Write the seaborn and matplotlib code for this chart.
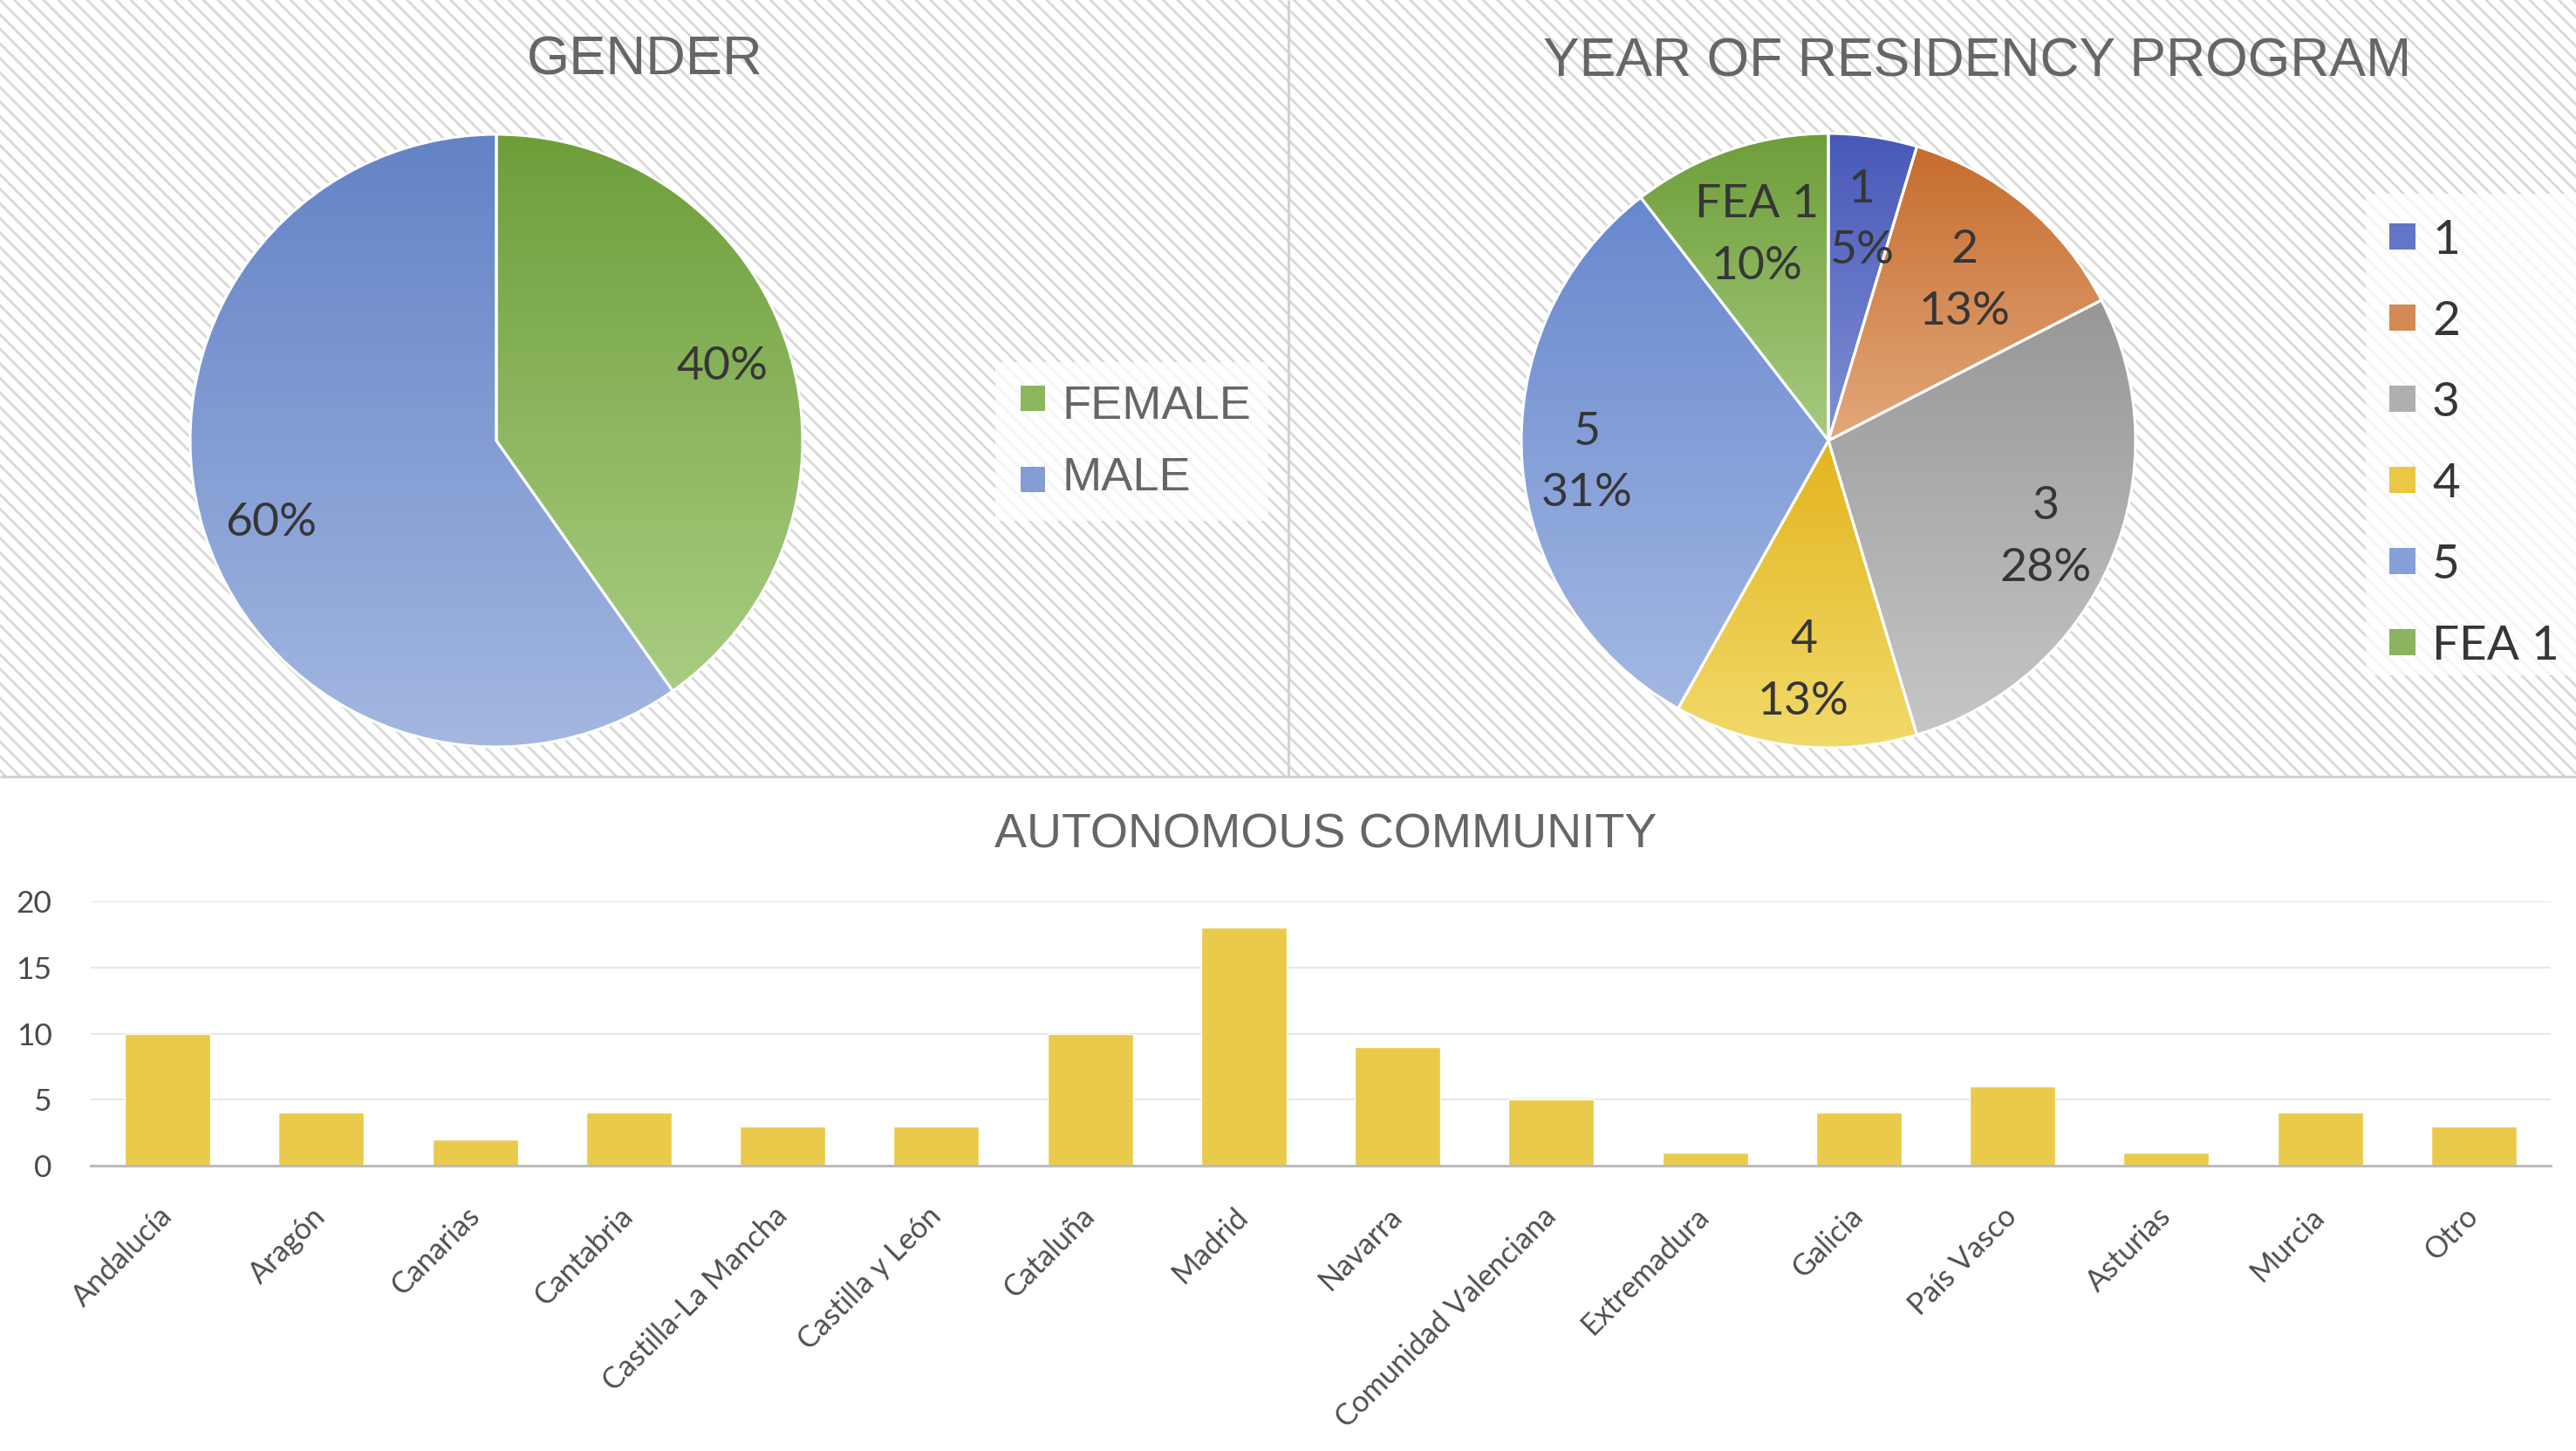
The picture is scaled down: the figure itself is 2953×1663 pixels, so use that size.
import numpy as np
import pandas as pd
import matplotlib
matplotlib.use("Agg")
import matplotlib.pyplot as plt
import seaborn as sns
from matplotlib.patches import Rectangle
from matplotlib.colors import to_rgb
from matplotlib.transforms import ScaledTranslation

# ---------------- data ----------------
gender_labels = ["FEMALE", "MALE"]
gender_counts = [35, 52]

year_labels = ["1", "2", "3", "4", "5", "FEA 1"]
year_counts = [4, 11, 24, 11, 27, 9]

communities = ["Andalucía", "Aragón", "Canarias", "Cantabria", "Castilla-La Mancha",
               "Castilla y León", "Cataluña", "Madrid", "Navarra", "Comunidad Valenciana",
               "Extremadura", "Galicia", "País Vasco", "Asturias", "Murcia", "Otro"]
community_counts = [10, 4, 2, 4, 3, 3, 10, 18, 9, 5, 1, 4, 6, 1, 4, 3]

# ---------------- styles ----------------
gender_top = ["#6E9E3A", "#6383C6"]
gender_bot = ["#A9CD82", "#A3B7E1"]
year_top = ["#4858B8", "#C66C2E", "#979797", "#E3B41E", "#6888CE", "#6E9E3A"]
year_bot = ["#8090D4", "#E2A87A", "#C6C6C6", "#F1DA6A", "#A3B8E3", "#A6CB80"]
gender_label_r = [0.78, 0.78]
year_label_r = [0.74, 0.695, 0.77, 0.74, 0.79, 0.72]
bar_color = "#E9CA4A"
label_color = "#363636"

sns.set_theme(style="white")
plt.rcParams["font.family"] = ["Lato", "DejaVu Sans"]
plt.rcParams["hatch.linewidth"] = 2.0
plt.rcParams["hatch.color"] = "#d8d8d8"

W, H = 2953, 1663
fig = plt.figure(figsize=(W / 100, H / 100), dpi=100)
fig.patch.set_facecolor("white")

# full-figure pixel axes for background / frames / legends / titles
bg = fig.add_axes([0, 0, 1, 1])
bg.set_xlim(0, W)
bg.set_ylim(H, 0)
bg.axis("off")
bg.add_patch(Rectangle((0, 0), W, 890, facecolor="white", edgecolor="#d8d8d8",
                       hatch="\\\\", lw=0))
bg.plot([1477, 1477], [0, 890], color="#d2d2d2", lw=2.2, solid_capstyle="butt")
bg.plot([0, W], [890, 890], color="#d2d2d2", lw=2.2, solid_capstyle="butt")

title_kw = dict(family=["Liberation Sans", "DejaVu Sans"], color="#666666",
                ha="center", va="baseline")
bg.text(739, 86, "GENDER", fontsize=45.5, **title_kw)
bg.text(2267, 87, "YEAR OF RESIDENCY PROGRAM", fontsize=45, **title_kw)
bg.text(1520, 971, "AUTONOMOUS COMMUNITY", fontsize=40, **title_kw)


def mid(a, b):
    return tuple((np.array(to_rgb(a)) + np.array(to_rgb(b))) / 2)


def shade(ax, wedge, top, bottom):
    bb = wedge.get_path().get_extents()
    t = np.linspace(0, 1, 256)[:, None]
    c0 = np.array(to_rgb(top))
    c1 = np.array(to_rgb(bottom))
    img = (c0 * (1 - t) + c1 * t)[:, None, :]
    im = ax.imshow(img, extent=(bb.x0, bb.x1, bb.y0, bb.y1), origin="upper",
                   aspect="auto", interpolation="bilinear", zorder=0.5)
    im.set_clip_path(wedge)


def pie_axes(cx, cy, r):
    k = 1.1
    ax = fig.add_axes([(cx - k * r) / W, (H - cy - k * r) / H, 2 * k * r / W, 2 * k * r / H])
    ax.patch.set_alpha(0)
    return ax


def draw_pie(ax, values, tops, bots, texts, radii, ang_off=0.0):
    wedges, _ = ax.pie(values, startangle=90, counterclock=False, radius=1,
                       colors=[mid(a, b) for a, b in zip(tops, bots)],
                       wedgeprops=dict(edgecolor="white", linewidth=2.2))
    for w, a, b in zip(wedges, tops, bots):
        shade(ax, w, a, b)
        w.set_facecolor("none")
    shift = ax.transData + ScaledTranslation(0, -0.05, fig.dpi_scale_trans)
    for w, txt, rr in zip(wedges, texts, radii):
        ang = np.deg2rad((w.theta1 + w.theta2) / 2 + ang_off)
        ax.text(rr * np.cos(ang), rr * np.sin(ang), txt, ha="center", va="center",
                fontsize=38.5, color=label_color, linespacing=1.62, zorder=3,
                transform=shift)
    ax.set_xlim(-1.1, 1.1)
    ax.set_ylim(-1.1, 1.1)
    ax.axis("off")


# gender pie
axg = pie_axes(569, 505, 351)
gtot = sum(gender_counts)
draw_pie(axg, gender_counts, gender_top, gender_bot,
         [f"{round(100 * v / gtot)}%" for v in gender_counts], gender_label_r, ang_off=1.6)

# year pie
axy = pie_axes(2096, 505, 352)
ytot = sum(year_counts)
draw_pie(axy, year_counts, year_top, year_bot,
         [f"{lab}\n{round(100 * v / ytot)}%" for lab, v in zip(year_labels, year_counts)],
         year_label_r)

# legends
bg.add_patch(Rectangle((1141, 415), 313, 182, facecolor="white", alpha=0.72, lw=0))
for i, (lab, a, b) in enumerate(zip(gender_labels, gender_top, gender_bot)):
    ysq = 456 + 93 * i
    ytx = 460 + 83 * i
    bg.add_patch(Rectangle((1170, ysq - 14.5), 28, 29, facecolor=mid(a, b), lw=0))
    bg.text(1218, ytx + 19.5, lab, fontsize=39, color="#666666",
            family=["Liberation Sans", "DejaVu Sans"], ha="left", va="baseline")

bg.add_patch(Rectangle((2712, 222), W - 2712, 552, facecolor="white", alpha=0.72, lw=0))
for i, (lab, a, b) in enumerate(zip(year_labels, year_top, year_bot)):
    yc = 271 + 93 * i
    bg.add_patch(Rectangle((2739, yc - 15), 30, 30, facecolor=mid(a, b), lw=0))
    bg.text(2788, yc + 20, lab, fontsize=39.5, color=label_color, ha="left", va="baseline")

# bar chart
axb = fig.add_axes([104 / W, (H - 1336) / H, (2924 - 104) / W, (1336 - 1033) / H])
axb.patch.set_alpha(0)
df = pd.DataFrame({"community": communities, "count": community_counts})
sns.barplot(data=df, x="community", y="count", color=bar_color, saturation=1,
            width=0.556, ax=axb, zorder=2)
axb.set_xlim(-0.5, len(communities) - 0.5)
axb.set_ylim(0, 20)
axb.set_yticks([0, 5, 10, 15, 20])
axb.yaxis.grid(True, color="#e8e8e8", lw=1.6)
axb.set_axisbelow(True)
for s in ["left", "right", "top"]:
    axb.spines[s].set_visible(False)
axb.spines["bottom"].set_color("#bcbcbc")
axb.spines["bottom"].set_linewidth(2.2)
axb.spines["bottom"].set_zorder(3)
axb.set_xlabel("")
axb.set_ylabel("")
axb.tick_params(axis="y", length=0, pad=32, labelsize=25.5, labelcolor="#4a4a4a")
axb.tick_params(axis="x", length=0, pad=38, labelsize=24.5, labelcolor="#4f4f4f")
plt.setp(axb.get_xticklabels(), rotation=45, ha="right", va="center",
         rotation_mode="anchor")

fig.savefig("out.png", dpi=100, facecolor="white")
